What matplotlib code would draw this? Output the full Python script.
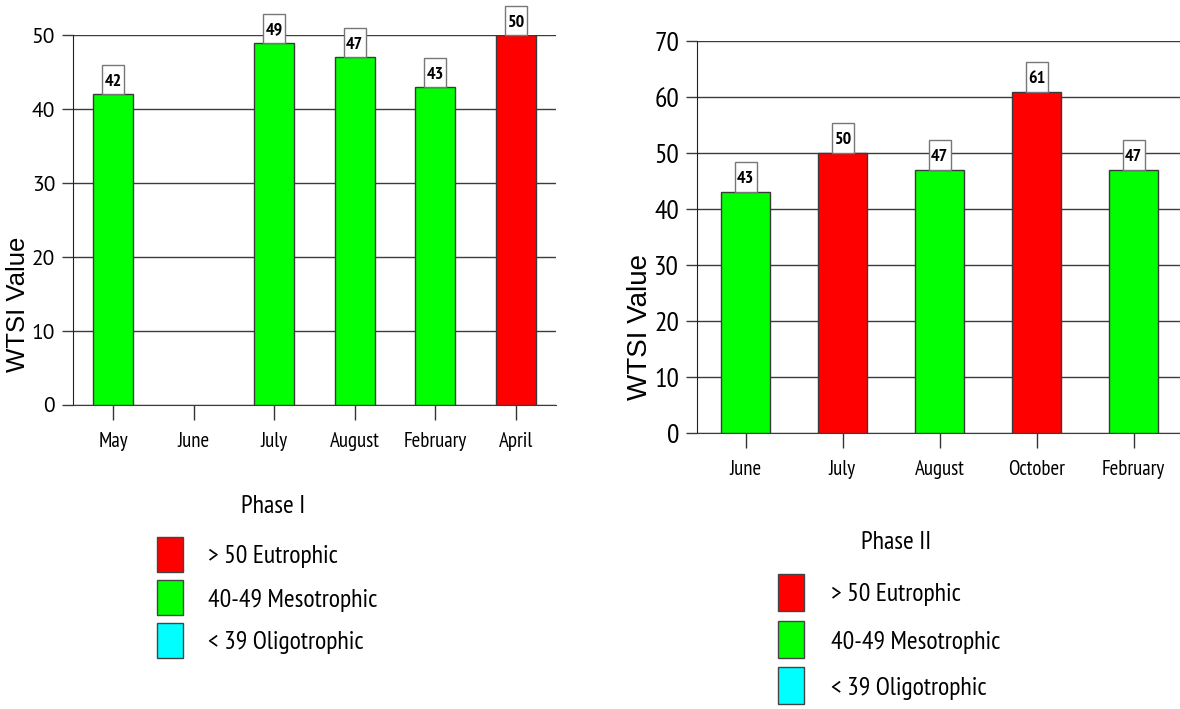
import numpy as np
import matplotlib
matplotlib.use('Agg')
import matplotlib.pyplot as plt
import matplotlib.transforms as mtransforms
from matplotlib.patches import Rectangle

NARROW = ['PT Sans Narrow', 'Liberation Sans Narrow', 'Archivo Narrow', 'Liberation Sans', 'DejaVu Sans']
WIDE = ['PT Sans', 'Liberation Sans', 'DejaVu Sans']
SANS = ['Liberation Sans', 'DejaVu Sans']
plt.rcParams['font.family'] = NARROW

# WTSI per sampling month (June of phase I was not sampled)
phase1_months = ['May', 'June', 'July', 'August', 'February', 'April']
phase1_wtsi = [42, np.nan, 49, 47, 43, 50]
phase2_months = ['June', 'July', 'August', 'October', 'February']
phase2_wtsi = [43, 50, 47, 61, 47]

class_labels = ['> 50 Eutrophic', '40-49 Mesotrophic', '< 39 Oligotrophic']
class_colors = ['#ff0000', '#00ff00', '#00ffff']

W, H = 1180, 709
fig = plt.figure(figsize=(W / 100, H / 100), dpi=100)


def status_color(v):
    if np.isnan(v):
        return 'none'
    if v >= 50:
        return class_colors[0]
    if v >= 40:
        return class_colors[1]
    return class_colors[2]


def px_axes(left, top, right, bottom):
    return fig.add_axes([left / W, 1 - bottom / H, (right - left) / W, (bottom - top) / H])


def draw_panel(ax, months, vals, ymax, tick_fs, tick_family, box_h):
    x = np.arange(len(months))
    vals = np.asarray(vals, dtype=float)
    ax.bar(x, np.nan_to_num(vals), width=0.5, color=[status_color(v) for v in vals],
           edgecolor=['#3a3a3a' if not np.isnan(v) else 'none' for v in vals],
           linewidth=1, zorder=3)
    ax.set_xlim(-0.5, len(months) - 0.5)
    ax.set_ylim(0, ymax + 0.04)
    ax.set_yticks(np.arange(0, ymax + 1, 10))
    ax.set_xticks(x)
    ax.set_xticklabels(months, fontsize=15)
    ax.grid(axis='y', color='#3c3c3c', lw=1, zorder=0)
    for s in ('top', 'right'):
        ax.spines[s].set_visible(False)
    ax.spines['left'].set_color('#222')
    ax.spines['bottom'].set_color('#3c3c3c')
    ax.tick_params(axis='y', length=7.9, width=1, color='#3c3c3c', pad=5,
                   labelsize=tick_fs)
    for lab in ax.get_yticklabels():
        lab.set_family(tick_family)
    ax.tick_params(axis='x', length=10.8, width=1, color='#333', pad=8.5)

    # value boxes sitting on the bar tops
    for xi, v in zip(x, vals):
        if np.isnan(v):
            continue
        tr = fig.dpi_scale_trans + mtransforms.ScaledTranslation(xi, v, ax.transData)
        ax.add_artist(Rectangle((-0.11, 0), 0.22, box_h, transform=tr, fc='white',
                                ec='#777', lw=1, clip_on=False, zorder=4))
        ax.text(0, box_h / 2, f'{v:.0f}', transform=tr, ha='center',
                va='center_baseline', fontsize=13, fontweight='bold',
                clip_on=False, zorder=5)


def draw_legend(title, cx, ty, px, tx, tops, patch_h):
    fig.text(cx / W, 1 - ty / H, title, ha='center', va='center_baseline', fontsize=18.5)
    for top, label, c in zip(tops, class_labels, class_colors):
        fig.add_artist(Rectangle((px / W, 1 - (top + patch_h) / H), 26 / W, patch_h / H,
                                 transform=fig.transFigure, fc=c, ec='#444', lw=1))
        fig.text(tx / W, 1 - (top + patch_h / 2) / H, label, ha='left',
                 va='center_baseline', fontsize=18.5)


ax1 = px_axes(73, 35, 556, 405)
draw_panel(ax1, phase1_months, phase1_wtsi, 50, 15.5, WIDE, 0.29)
ax2 = px_axes(697, 41, 1182, 433)
draw_panel(ax2, phase2_months, phase2_wtsi, 70, 20, NARROW, 0.30)

fig.text(18.5 / W, 1 - 304 / H, 'WTSI Value', rotation=90, ha='center', va='center',
         fontsize=18.5, family=SANS)
fig.text(640 / W, 1 - 327 / H, 'WTSI Value', rotation=90, ha='center', va='center',
         fontsize=20, family=SANS)

draw_legend('Phase I', 273, 504, 157, 208, [537, 580, 623], 35)
draw_legend('Phase II', 896, 540, 778, 831, [574, 621, 667], 37)

fig.savefig('out.png', dpi=100)
